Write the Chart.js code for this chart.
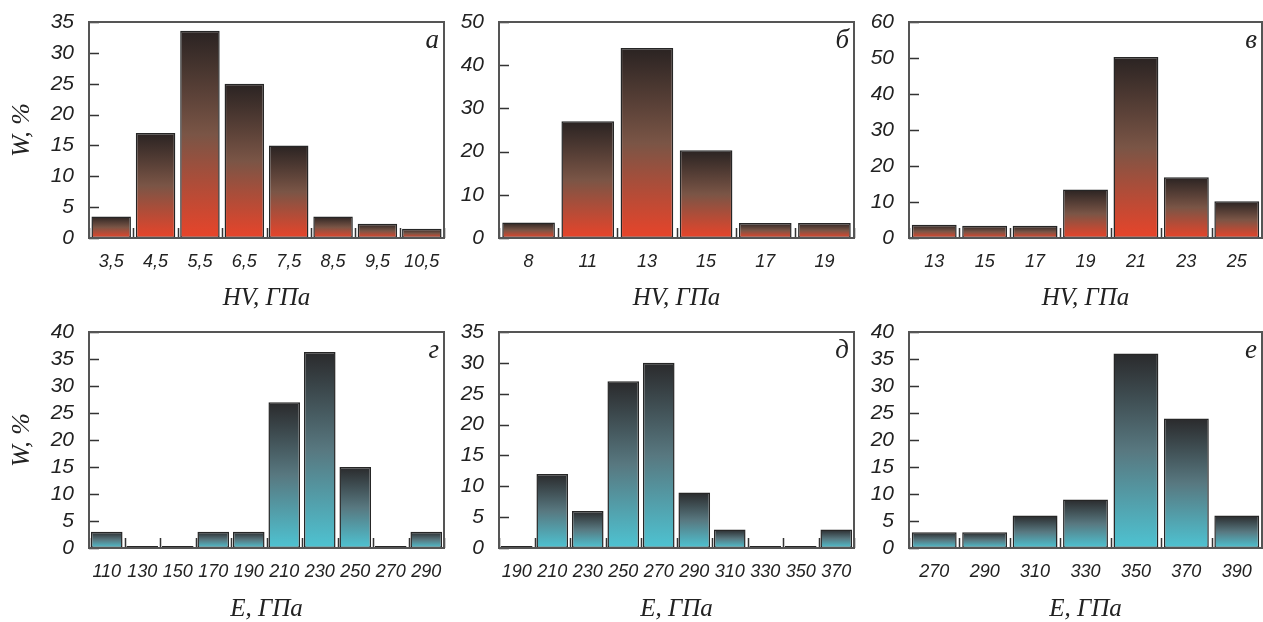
<!DOCTYPE html>
<html>
<head>
<meta charset="utf-8">
<script src="https://cdn.jsdelivr.net/npm/chart.js@4.4.1/dist/chart.umd.min.js"></script>
<style>
  html, body { margin: 0; padding: 0; background: #fff; }
  #wrap { position: relative; width: 1263px; height: 622px; overflow: hidden; }
  #wrap canvas { position: absolute; }
</style>
</head>
<body>
<div id="wrap">
  <canvas id="chartA" width="449" height="311" style="left:0px;top:0px"></canvas>
  <canvas id="chartB" width="412" height="311" style="left:449px;top:0px"></canvas>
  <canvas id="chartC" width="404" height="311" style="left:859px;top:0px"></canvas>
  <canvas id="chartD" width="449" height="311" style="left:0px;top:311px"></canvas>
  <canvas id="chartE" width="412" height="311" style="left:449px;top:311px"></canvas>
  <canvas id="chartF" width="404" height="311" style="left:859px;top:311px"></canvas>
</div>
<script>
// hardness distributions (HV, GPa) and W %
const hvA = ['3,5', '4,5', '5,5', '6,5', '7,5', '8,5', '9,5', '10,5'];
const wA = [3.5, 17, 33.6, 25, 15, 3.5, 2.3, 1.5];

const hvB = ['8', '11', '13', '15', '17', '19'];
const wB = [3.6, 27, 44, 20.3, 3.5, 3.5];

const hvC = ['13', '15', '17', '19', '21', '23', '25'];
const wC = [3.7, 3.4, 3.4, 13.5, 50.3, 16.9, 10.2];

// modulus distributions (E, GPa)
const eD = ['110', '130', '150', '170', '190', '210', '230', '250', '270', '290'];
const wD = [3, 0, 0, 3, 3, 27, 36.3, 15, 0, 3];

const eE = ['190', '210', '230', '250', '270', '290', '310', '330', '350', '370'];
const wE = [0, 12, 6, 27, 30, 9, 3, 0, 0, 3];

const eF = ['270', '290', '310', '330', '350', '370', '390'];
const wF = [2.9, 2.9, 6, 9, 36, 24, 6];

const redStops = ['#2a2322', '#7a5546', '#e8442a'];
const blueStops = ['#2a2a2c', '#587880', '#4ec3d2'];

// frame, inward ticks and the panel letter
const panelDeco = {
  id: 'panelDeco',
  beforeDatasetsDraw(chart) {
    const ctx = chart.ctx;
    const area = chart.chartArea;
    const xs = chart.scales.x;
    const ys = chart.scales.y;
    ctx.save();
    ctx.strokeStyle = '#333';
    ctx.lineWidth = 1.5;
    ctx.beginPath();
    for (let i = 0; i <= xs.ticks.length; i++) {
      const px = Math.round(xs.getPixelForValue(i - 0.5)) + 0.5;
      ctx.moveTo(px, area.bottom);
      ctx.lineTo(px, area.bottom - 10);
    }
    ys.ticks.forEach(t => {
      const py = Math.round(ys.getPixelForValue(t.value)) + 0.5;
      ctx.moveTo(area.left, py);
      ctx.lineTo(area.left + 10, py);
    });
    ctx.stroke();
    ctx.restore();
  },
  afterDatasetsDraw(chart, args, opts) {
    const ctx = chart.ctx;
    const area = chart.chartArea;
    ctx.save();
    ctx.strokeStyle = '#555';
    ctx.lineWidth = 2;
    ctx.strokeRect(area.left, area.top, area.right - area.left, area.bottom - area.top);
    ctx.fillStyle = '#222';
    ctx.font = 'italic 27px "Liberation Serif", "DejaVu Serif", serif';
    ctx.textAlign = 'right';
    ctx.textBaseline = 'alphabetic';
    ctx.fillText(opts.letter, area.right - 5, area.top + 26);
    ctx.restore();
  }
};

function makeChart(id, labels, values, yMax, yStep, letter, xTitle, yTitle, yWidth, padTop, xHeight, padRight, stops) {
  const ctx = document.getElementById(id).getContext('2d');
  return new Chart(ctx, {
    type: 'bar',
    data: {
      labels: labels,
      datasets: [{
        data: values,
        backgroundColor: function(c) {
          const chart = c.chart;
          if (!chart.chartArea) return stops[2];
          const ys = chart.scales.y;
          const base = ys.getPixelForValue(0);
          let top = ys.getPixelForValue(c.raw);
          if (base - top < 2) top = base - 2;
          const g = chart.ctx.createLinearGradient(0, top, 0, base);
          g.addColorStop(0, stops[0]);
          g.addColorStop(0.5, stops[1]);
          g.addColorStop(1, stops[2]);
          return g;
        },
        borderColor: '#262626',
        borderWidth: 1.5,
        borderSkipped: false,
        barPercentage: 0.89,
        categoryPercentage: 1,
        minBarLength: 2
      }]
    },
    options: {
      responsive: false,
      animation: false,
      layout: { padding: { top: padTop, right: padRight, left: 0, bottom: 0 } },
      plugins: {
        legend: { display: false },
        tooltip: { enabled: false },
        panelDeco: { letter: letter }
      },
      scales: {
        x: {
          grid: { display: false },
          border: { display: false },
          ticks: {
            autoSkip: false,
            maxRotation: 0,
            padding: 5,
            color: '#222',
            font: { family: '"Liberation Sans", Arial, sans-serif', size: 18, style: 'italic' }
          },
          title: {
            display: true,
            text: xTitle,
            color: '#222',
            padding: { top: 0, bottom: 0 },
            font: { family: '"Liberation Serif", "DejaVu Serif", serif', size: 25, style: 'italic', lineHeight: 1.0 }
          },
          afterFit: s => { s.height = xHeight; }
        },
        y: {
          min: 0,
          max: yMax,
          grid: { display: false },
          border: { display: false },
          ticks: {
            autoSkip: false,
            stepSize: yStep,
            padding: 7,
            color: '#222',
            font: { family: '"Liberation Sans", Arial, sans-serif', size: 21, style: 'italic' }
          },
          title: {
            display: yTitle !== '',
            text: yTitle,
            color: '#222',
            padding: { top: 7, bottom: 0 },
            font: { family: '"Liberation Serif", "DejaVu Serif", serif', size: 26, style: 'italic', lineHeight: 1.2 }
          },
          afterFit: s => { s.width = yWidth; }
        }
      }
    },
    plugins: [panelDeco]
  });
}

makeChart('chartA', hvA, wA, 35, 5, 'а', 'HV, ГПа', 'W, %', 89, 22, 73, 5, redStops);
makeChart('chartB', hvB, wB, 50, 10, 'б', 'HV, ГПа', '', 50, 22, 73, 7, redStops);
makeChart('chartC', hvC, wC, 60, 10, 'в', 'HV, ГПа', '', 50, 22, 73, 1, redStops);
makeChart('chartD', eD, wD, 40, 5, 'г', 'E, ГПа', 'W, %', 89, 21, 74, 5, blueStops);
makeChart('chartE', eE, wE, 35, 5, 'д', 'E, ГПа', '', 50, 21, 74, 7, blueStops);
makeChart('chartF', eF, wF, 40, 5, 'е', 'E, ГПа', '', 50, 21, 74, 1, blueStops);
</script>
</body>
</html>
